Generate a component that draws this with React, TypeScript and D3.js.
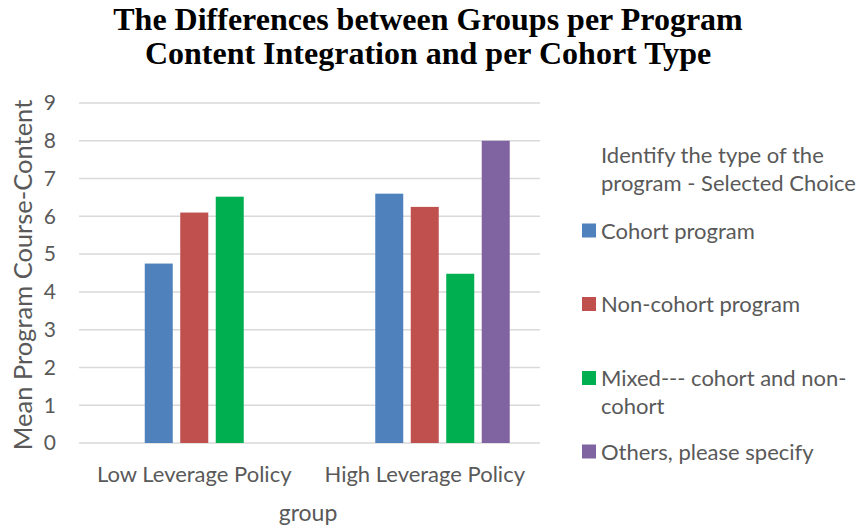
import React from "react";
import * as d3 from "d3";

// Program groups along the x axis
const groups = ["Low Leverage Policy", "High Leverage Policy"];

// Cohort types (legend order)
const seriesNames = [
  "Cohort program",
  "Non-cohort program",
  "Mixed--- cohort and non-cohort",
  "Others, please specify",
];
const seriesColors = ["#4F81BD", "#C0504D", "#00B050", "#8064A2"];

// Mean program course-content per group, one array per cohort type (null = no data)
const cohortValues = [4.75, 6.6];
const nonCohortValues = [6.1, 6.25];
const mixedValues = [6.52, 4.48];
const othersValues: (number | null)[] = [null, 8.0];

const yTicks = [0, 1, 2, 3, 4, 5, 6, 7, 8, 9];

const W = 861;
const H = 531;
const plot = { left: 79, right: 540, top: 103, bottom: 443 };
const sans = "Lato, 'Open Sans', 'Liberation Sans', sans-serif";
const textColor = "#595959";

export default function App() {
  const seriesValues = [cohortValues, nonCohortValues, mixedValues, othersValues];

  const y = d3.scaleLinear().domain([0, 9]).range([plot.bottom, plot.top]);
  const x = d3.scaleBand<string>().domain(groups).range([plot.left, plot.right]).padding(0);
  const bw = x.bandwidth();
  // bars sit in the right-hand slots of each category, leaving an empty slot on the left
  const inner = d3
    .scaleBand<string>()
    .domain(seriesNames)
    .range([bw * 0.115 - 3.75, bw * 0.885 - 3.75])
    .paddingInner(0.211)
    .paddingOuter(0.6056)
    .align(1);

  const legendItems = [
    { name: ["Cohort program"], cy: 230.5 },
    { name: ["Non-cohort program"], cy: 304 },
    { name: ["Mixed--- cohort and non-", "cohort"], cy: 378 },
    { name: ["Others, please specify"], cy: 451.5 },
  ];

  return (
    <svg width={W} height={H} style={{ position: "absolute", left: 0, top: 0, background: "#fff" }}>
      <rect width={W} height={H} fill="#fff" />
      {/* title */}
      <text
        x={428}
        textAnchor="middle"
        fontFamily="'Liberation Serif', 'Times New Roman', serif"
        fontWeight="bold"
        fontSize={32}
        fill="#000"
      >
        <tspan x={428} y={30}>The Differences between Groups per Program</tspan>
        <tspan x={428} y={64}>Content Integration and per Cohort Type</tspan>
      </text>

      {/* gridlines */}
      {yTicks.map((t) => (
        <line
          key={t}
          x1={plot.left}
          x2={plot.right}
          y1={y(t)}
          y2={y(t)}
          stroke="#D9D9D9"
          strokeWidth={1.5}
        />
      ))}

      {/* y tick labels */}
      {yTicks.map((t) => (
        <text
          key={"yl" + t}
          x={56}
          y={y(t)}
          dy="0.35em"
          textAnchor="end"
          fontFamily={sans}
          fontSize={21}
          fill={textColor}
        >
          {t}
        </text>
      ))}

      {/* bars */}
      {groups.map((g, gi) =>
        seriesNames.map((s, si) => {
          const v = seriesValues[si][gi];
          if (v == null) return null;
          const bx = (x(g) ?? 0) + (inner(s) ?? 0);
          return (
            <rect
              key={g + s}
              x={bx}
              y={y(v)}
              width={inner.bandwidth()}
              height={y(0) - y(v)}
              fill={seriesColors[si]}
            />
          );
        })
      )}

      {/* x category labels */}
      {groups.map((g) => (
        <text
          key={"xl" + g}
          x={(x(g) ?? 0) + bw / 2}
          y={482}
          textAnchor="middle"
          fontFamily={sans}
          fontSize={22}
          fill={textColor}
        >
          {g}
        </text>
      ))}

      {/* axis titles */}
      <text x={308} y={521} textAnchor="middle" fontFamily={sans} fontSize={23} fill={textColor}>
        group
      </text>
      <text
        transform={`translate(32, 275) rotate(-90)`}
        textAnchor="middle"
        fontFamily={sans}
        fontSize={25.5}
        fill={textColor}
      >
        Mean Program Course-Content
      </text>

      {/* legend */}
      <text fontFamily={sans} fontSize={22} fill={textColor}>
        <tspan x={601} y={163}>Identify the type of the</tspan>
        <tspan x={601} y={191}>program - Selected Choice</tspan>
      </text>
      {legendItems.map((it, i) => (
        <g key={"lg" + i}>
          <rect x={582} y={it.cy - 7} width={14} height={14} fill={seriesColors[i]} />
          <text fontFamily={sans} fontSize={22} fill={textColor}>
            {it.name.map((line, li) => (
              <tspan key={li} x={601} y={it.cy + 8 + li * 28}>
                {line}
              </tspan>
            ))}
          </text>
        </g>
      ))}
    </svg>
  );
}
